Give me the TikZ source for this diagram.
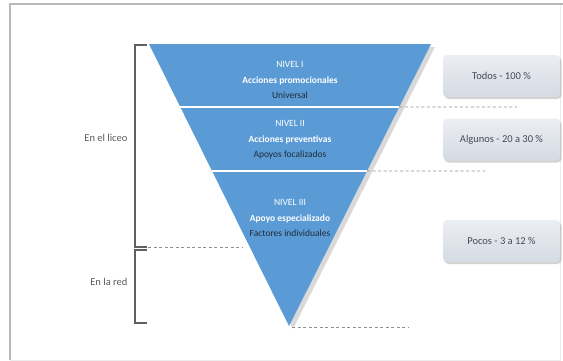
\documentclass[tikz,border=0pt]{standalone}
\usepackage{fontspec}
\setmainfont{Carlito}
\usetikzlibrary{positioning, calc, shadows}

\definecolor{nivelblue}{HTML}{5B9BD5}
\definecolor{nivelink}{HTML}{1E2B3A}
\definecolor{boxtop}{HTML}{EBEEF2}
\definecolor{boxbottom}{HTML}{D5DBE3}
\definecolor{guidegray}{HTML}{8E8E8E}
\definecolor{placegray}{HTML}{5A5A5A}

\begin{document}
\begin{tikzpicture}[
    x=1pt, y=1pt,
    level/.style={align=center, font=\fontsize{9.5}{15.5}\selectfont, text=white},
    share/.style={rectangle, rounded corners=4pt, top color=boxtop, bottom color=boxbottom, minimum width=117pt, minimum height=42pt, font=\fontsize{10.5}{12}\selectfont, text=nivelink!85, drop shadow={opacity=0.35, shadow xshift=1.5pt, shadow yshift=-2pt}},
    place/.style={anchor=east, font=\fontsize{10.5}{12}\selectfont, text=placegray},
    guide/.style={draw=guidegray, dash pattern=on 3pt off 2.5pt, line width=0.9pt},
    bracket/.style={draw=gray!75!black, line width=1.1pt}
]

\useasboundingbox (0,0) rectangle (563,360);
\draw[gray!15, line width=1pt] (10,0) rectangle (560,356);
\draw[gray!55, line width=1.3pt] (10,0) |- (563,356);

% funnel
\coordinate (tl) at (149,316);
\coordinate (tr) at (431,316);
\coordinate (apex) at (289,34);
\path[fill=nivelblue, drop shadow={opacity=0.3, shadow xshift=4pt, shadow yshift=-3pt}] (tl) -- (tr) -- (apex) -- cycle;

\coordinate (cutIa) at ($(tl)!0.2234!(apex)$);
\coordinate (cutIb) at ($(tr)!0.2234!(apex)$);
\coordinate (cutIIa) at ($(tl)!0.4504!(apex)$);
\coordinate (cutIIb) at ($(tr)!0.4504!(apex)$);
\draw[white, line width=1.8pt] (cutIa) -- (cutIb);
\draw[white, line width=1.8pt] (cutIIa) -- (cutIIb);

\node[level] (nivelI) at (290,280) {NIVEL I\\\textbf{Acciones promocionales}\\\textcolor{nivelink}{Universal}};
\node[level] (nivelII) at (290,220) {NIVEL II\\\textbf{Acciones preventivas}\\\textcolor{nivelink}{Apoyos focalizados}};
\node[level] (nivelIII) at (290,142) {NIVEL III\\\textbf{Apoyo especializado}\\\textcolor{nivelink}{Factores individuales}};

% shares
\node[share] (todos) at (501.5,284) {Todos - 100 \%};
\node[share] (algunos) at (501.5,220.5) {Algunos - 20 a 30 \%};
\node[share] (pocos) at (501.5,119) {Pocos - 3 a 12 \%};

% guides
\coordinate (endI) at (517,253);
\coordinate (endII) at (485,189);
\coordinate (endApex) at (408,33);
\coordinate (startRed) at (148,113);
\coordinate (endRed) at (242,113);
\draw[guide] (cutIb) -- (endI);
\draw[guide] (cutIIb) -- (endII);
\draw[guide] ([xshift=3pt,yshift=-1pt]apex) -- (endApex);
\draw[guide] (startRed) -- (endRed);

% brackets
\draw[bracket] (147,315) -| (135,113) -- (147,113);
\draw[bracket] (147,110) -| (135,37) -- (147,37);
\node[place] (liceo) at (131,222) {En el liceo};
\node[place] (red) at (131,78) {En la red};

\end{tikzpicture}
\end{document}
